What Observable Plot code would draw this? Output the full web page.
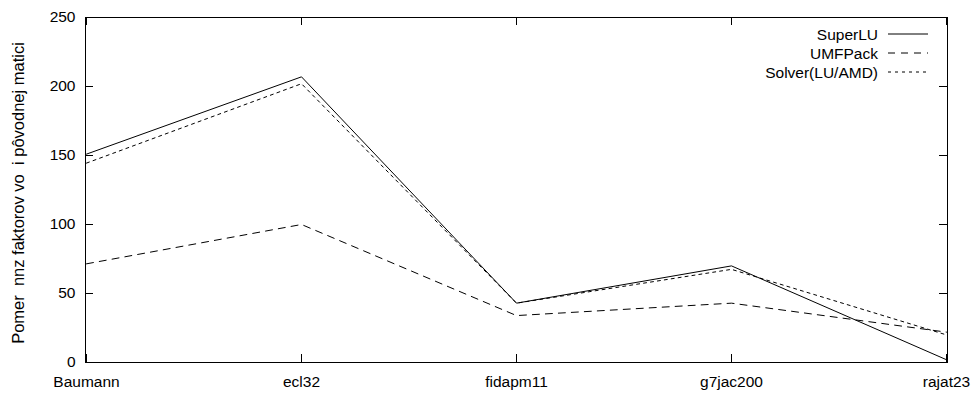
<!DOCTYPE html>
<html>
<head>
<meta charset="utf-8">
<script src="https://cdn.jsdelivr.net/npm/d3@7"></script>
<script src="https://cdn.jsdelivr.net/npm/@observablehq/plot@0.6"></script>
<style>
  html, body { margin: 0; padding: 0; background: #fff; }
  #wrap { position: relative; width: 976px; height: 396px; font-family: "Liberation Sans", Arial, sans-serif; }
  #legend { position: absolute; left: 628px; top: 24.5px; width: 300px; font-size: 15.5px; color: #000; }
  .row { display: flex; justify-content: flex-end; align-items: center; height: 19px; }
  .row span { margin-right: 10px; line-height: 19px; }
  .row svg { width: 40px; height: 10px; }
</style>
</head>
<body>
<div id="wrap"></div>
<script>
const categories = ["Baumann", "ecl32", "fidapm11", "g7jac200", "rajat23"];
const superLU = [151, 207, 43, 70, 2];
const umfPack = [71.5, 100, 34, 43, 22];
const solverLU = [144.5, 202, 43, 67.5, 20];
const yTicks = [0, 50, 100, 150, 200, 250];
const seriesNames = ["SuperLU", "UMFPack", "Solver(LU/AMD)"];
const yLabel = "Pomer  nnz faktorov vo  i pôvodnej matici";

const dashes = {"SuperLU": null, "UMFPack": "7,6", "Solver(LU/AMD)": "3,4"};
const seriesValues = [superLU, umfPack, solverLU];
const rows = seriesNames.flatMap((s, i) => categories.map((c, j) => ({series: s, cat: c, value: seriesValues[i][j]})));

const W = 976, H = 396, mL = 85, mR = 29, mT = 17, mB = 34;
const innerW = W - mL - mR, innerH = H - mT - mB, tk = 8;
const fs = 15.5;

const chart = Plot.plot({
  width: W, height: H,
  marginLeft: mL, marginRight: mR, marginTop: mT, marginBottom: mB,
  style: {fontFamily: "'Liberation Sans', Arial, sans-serif", fontSize: fs + "px", color: "#000", background: "#fff"},
  x: {type: "point", domain: categories, padding: 0},
  y: {domain: [0, 250]},
  marks: [
    Plot.axisX({tickSize: 0, tickPadding: 13, label: null, fontSize: fs}),
    Plot.axisY({ticks: yTicks, tickSize: 0, tickPadding: 10, label: null, fontSize: fs}),
    // inward ticks (gnuplot style, mirrored)
    Plot.tickY(yTicks, {y: d => d, insetRight: innerW - tk, stroke: "#000"}),
    Plot.tickY(yTicks, {y: d => d, insetLeft: innerW - tk, stroke: "#000"}),
    Plot.tickX(categories, {x: d => d, insetTop: innerH - tk, stroke: "#000"}),
    Plot.tickX(categories, {x: d => d, insetBottom: innerH - tk, stroke: "#000"}),
    ...seriesNames.map(s => Plot.line(rows.filter(r => r.series === s), {
      x: "cat", y: "value", stroke: "#000", strokeWidth: 1,
      strokeDasharray: dashes[s], strokeLinejoin: "miter"
    })),
    Plot.frame({stroke: "#000", strokeWidth: 1}),
    Plot.text([yLabel], {text: d => d, frameAnchor: "left", textAnchor: "middle", rotate: -90, dx: -67, dy: 3, fontSize: 16.5, fill: "#000"})
  ]
});
const wrap = document.getElementById("wrap");
wrap.appendChild(chart);

const legend = document.createElement("div");
legend.id = "legend";
seriesNames.forEach(s => {
  const row = document.createElement("div");
  row.className = "row";
  const dash = dashes[s] ? ` stroke-dasharray="${dashes[s]}"` : "";
  row.innerHTML = `<span>${s}</span><svg viewBox="0 0 40 10"><line x1="0" y1="5" x2="40" y2="5" stroke="#000" stroke-width="1"${dash}/></svg>`;
  legend.appendChild(row);
});
wrap.appendChild(legend);
</script>
</body>
</html>
